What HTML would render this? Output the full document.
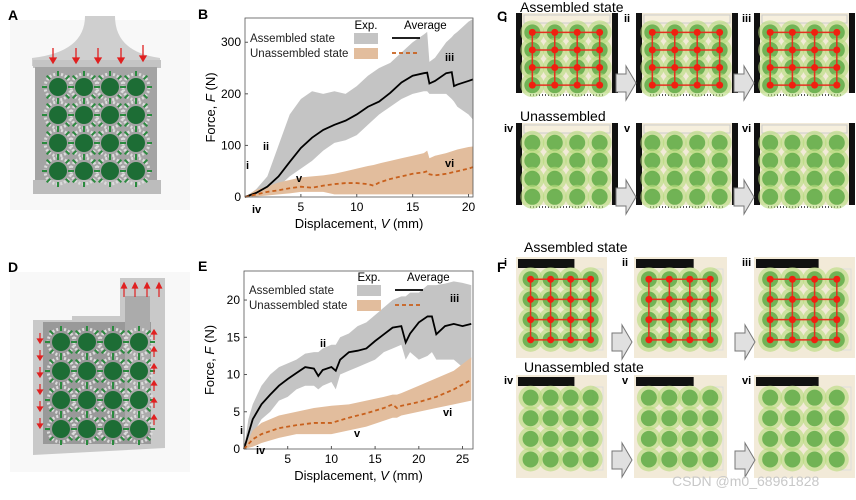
<!DOCTYPE html>
<html><head><meta charset="utf-8"><style>
html,body{margin:0;padding:0;background:#fff;}
body{width:856px;height:495px;overflow:hidden;font-family:"Liberation Sans",Arial,sans-serif;}
svg text{font-family:"Liberation Sans",Arial,sans-serif;}
</style></head><body>
<svg id="fig" width="856" height="495" viewBox="0 0 856 495" xmlns="http://www.w3.org/2000/svg">
<g id="panelA">
  <text x="8" y="20" font-size="14" font-weight="bold">A</text>
  <rect x="10" y="20" width="180" height="190" fill="#f8f8f8"/>
  <path d="M85 16 L115 16 Q115 52 160 58 L160 66 L32 66 L32 58 Q85 52 85 16Z" fill="#cfcfcf"/>
  <rect x="33" y="60" width="128" height="8" fill="#c4c4c4"/>
  <rect x="35" y="67" width="122" height="115" fill="#a4a4a4"/>
  <rect x="33" y="180" width="128" height="14" fill="#bcbcbc"/>
  <g id="gridA"></g>
  <g fill="#e02020" stroke="#e02020" stroke-width="1.3">
    <line x1="53" y1="48" x2="53" y2="60"/><path d="M50 58 L56 58 L53 63Z"/>
    <line x1="76" y1="48" x2="76" y2="60"/><path d="M73 58 L79 58 L76 63Z"/>
    <line x1="98" y1="48" x2="98" y2="60"/><path d="M95 58 L101 58 L98 63Z"/>
    <line x1="121" y1="48" x2="121" y2="60"/><path d="M118 58 L124 58 L121 63Z"/>
    <line x1="143" y1="45" x2="143" y2="58"/><path d="M140 56 L146 56 L143 61Z"/>
  </g>
</g>
<g id="panelD">
  <text x="8" y="272" font-size="14" font-weight="bold">D</text>
  <rect x="10" y="272" width="180" height="200" fill="#f8f8f8"/>
  <path d="M33 320 L72 320 L72 316 L120 316 L120 278 L165 278 L165 448 L33 455Z" fill="#c9c9c9"/>
  <rect x="43" y="322" width="108" height="122" fill="#999"/>
  <rect x="125" y="296" width="25" height="130" fill="#ababab"/>
  <g id="gridD"></g>
  <g id="arrowsD" fill="#e02020" stroke="#e02020" stroke-width="1.2"></g>
</g>

<g id="chartB">
  <text x="198" y="19" font-size="14" font-weight="bold">B</text>
</g>
<g id="chartE">
  <text x="198" y="271" font-size="14" font-weight="bold">E</text>
</g>

<g id="panelC">
  <text x="497" y="21" font-size="14" font-weight="bold">C</text>
  <text x="520" y="12" font-size="14">Assembled state</text>
  <text x="520" y="121" font-size="14">Unassembled</text>
</g>
<g id="panelF">
  <text x="497" y="272" font-size="14" font-weight="bold">F</text>
  <text x="524" y="252" font-size="14">Assembled state</text>
  <text x="524" y="372" font-size="14">Unassembled state</text>
</g>
<text x="672" y="486" font-size="14" fill="#c8c8c8">CSDN @m0_68961828</text>
</svg>
<script>
// ---------- Chart B data ----------
const bAsmX   = [0,1,2,3,4,5,6,7,8,9,10,11,12,13,14,15,16,16.3,16.5,17,18,18.5,18.7,19,20,20.4];
const bAsmMean= [0,8,20,40,68,95,115,130,140,148,160,175,185,202,222,235,240,241,220,225,240,242,215,218,225,228];
const bAsmHi  = [0,15,40,100,160,190,205,200,205,200,215,235,250,260,280,300,315,320,262,270,300,310,315,320,340,345];
const bAsmLo  = [0,2,8,20,40,55,70,90,105,110,120,140,160,175,190,200,205,205,200,200,200,190,185,175,160,150];
const bUnX    = [0,1,2,3,4,5,6,7,8,9,10,11,11.5,12,13,14,15,16,16.3,16.5,17,18,19,20,20.4];
const bUnMean = [0,5,10,13,17,20,18,22,25,27,27,25,22,28,35,40,45,48,50,44,42,45,50,55,58];
const bUnHi   = [0,14,20,28,33,38,40,42,45,50,55,60,62,65,70,75,80,85,90,75,80,85,92,97,98];
const bUnLo   = [0,1,3,5,7,10,10,10,5,5,5,5,5,5,5,5,5,5,5,5,5,5,5,5,5];
const bXTicks = [5,10,15,20];
const bYTicks = [0,100,200,300];
// ---------- Chart E data ----------
const eAsmX   = [0,0.5,1,2,3,4,5,6,7,8,8.5,9,10,10.5,11,12,13,14,15,16,17,18,18.5,19,20,21,21.5,22,23,24,25,26];
const eAsmMean= [0,2,4,6,7.3,8.5,9.4,10.2,11,10.8,9.8,10.6,11,10.5,12,13,13.2,13.5,14.5,15.4,16.3,16.5,14.3,15.5,17,17.8,17.8,15.4,16.5,16.8,16.5,16.8];
const eAsmHi  = [0,4,6,8.5,10,11,11.5,12,12.8,13,13,13.5,14,14,15,15.5,16.5,17,18,19,20,20.5,20.5,21,21,22,22,22,22.2,22.5,22.3,22];
const eAsmLo  = [0,0.5,2,4,5,6.5,7,8,8.5,8.5,8,8.5,9,8,10,10.5,11,11.5,12,13,13.5,14,12,13,12,12.5,13,12,12,12,11,12];
const eUnX    = [0,1,2,4,6,8,10,12,14,16,17,17.5,18,20,22,24,26];
const eUnMean = [0,1.3,2,2.8,3.2,3.5,3.5,4.2,4.8,5.5,6,5.5,5.8,6.3,7,8,9.3];
const eUnHi   = [0,2.5,3.5,4.5,5,5.5,5.8,6,6.5,7,7.3,7.3,7.5,8.5,9.5,10.5,12.3];
const eUnLo   = [0,0.3,0.8,1.5,2,2,2,2.5,3,3.8,4.2,4.2,4.5,5,5.5,6,6.5];
const eXTicks = [5,10,15,20,25];
const eYTicks = [0,5,10,15,20];

const NS="http://www.w3.org/2000/svg";
function mk(tag,attrs,parent){const e=document.createElementNS(NS,tag);for(const k in attrs)e.setAttribute(k,attrs[k]);if(parent)parent.appendChild(e);return e;}

function drawChart(g,cfg){
  const sx=v=>cfg.x0+(v-cfg.xmin)/(cfg.xmax-cfg.xmin)*(cfg.x1-cfg.x0);
  const sy=v=>cfg.y0-(v-cfg.ymin)/(cfg.ymax-cfg.ymin)*(cfg.y0-cfg.y1);
  const band=(xs,hi,lo,fill,name)=>{
    let d="M"+xs.map((x,i)=>sx(x)+" "+sy(hi[i])).join(" L");
    for(let i=xs.length-1;i>=0;i--)d+=" L"+sx(xs[i])+" "+sy(lo[i]);
    const p=mk("path",{d:d+"Z",fill:fill},g);
    
    
  };
  const line=(xs,ys,st,dash,name)=>{
    const p=mk("polyline",{points:xs.map((x,i)=>sx(x)+","+sy(ys[i])).join(" "),fill:"none",stroke:st,"stroke-width":1.8,"stroke-dasharray":dash},g);
    
    
  };
  band(cfg.ax,cfg.ahi,cfg.alo,"#c4c4c4","assembled-exp-band");
  band(cfg.ux,cfg.uhi,cfg.ulo,"#e2bd9d","unassembled-exp-band");
  line(cfg.ax,cfg.am,"#000","none","assembled-average-line");
  line(cfg.ux,cfg.um,"#c8601c","4 3","unassembled-average-line");
  const fr=mk("rect",{x:cfg.x0,y:cfg.y1,width:cfg.x1-cfg.x0,height:cfg.y0-cfg.y1,fill:"none",stroke:"#555","stroke-width":0.8},g);
  
  
  cfg.xt.forEach(v=>{
    mk("line",{x1:sx(v),x2:sx(v),y1:cfg.y0,y2:cfg.y0-3,stroke:"#555"},g);
    const t=mk("text",{x:sx(v),y:cfg.y0+14,"font-size":12,"text-anchor":"middle"},g);t.textContent=v;
    
    
  });
  cfg.yt.forEach(v=>{
    mk("line",{x1:cfg.x0,x2:cfg.x0+3,y1:sy(v),y2:sy(v),stroke:"#555"},g);
    const t=mk("text",{x:cfg.x0-4,y:sy(v)+4,"font-size":12,"text-anchor":"end"},g);t.textContent=v;
    
    
  });
  const xt=mk("text",{x:(cfg.x0+cfg.x1)/2,y:cfg.y0+31,"font-size":13,"text-anchor":"middle"},g);
  xt.innerHTML='Displacement, <tspan font-style="italic">V</tspan> (mm)';
  
  
  const yc=(cfg.y0+cfg.y1)/2;
  const yt=mk("text",{x:cfg.x0-30,y:yc,"font-size":13,"text-anchor":"middle",transform:`rotate(-90 ${cfg.x0-30} ${yc})`},g);
  yt.innerHTML='Force, <tspan font-style="italic">F</tspan> (N)';
  
  
  const L=cfg.leg;
  [["Assembled state",L.y+13],["Unassembled state",L.y+28]].forEach(a=>{
    const t=mk("text",{x:cfg.x0+5,y:a[1],"font-size":11.5,fill:"#222"},g);t.textContent=a[0];
    
    
  });
  let t=mk("text",{x:L.x+12,y:L.y,"font-size":11.5,"text-anchor":"middle"},g);t.textContent="Exp.";
  t=mk("text",{x:L.x+50,y:L.y,"font-size":11.5},g);t.textContent="Average";
  mk("rect",{x:L.x,y:L.y+4,width:24,height:11,fill:"#c4c4c4"},g);
  mk("rect",{x:L.x,y:L.y+19,width:24,height:11,fill:"#e2bd9d"},g);
  mk("line",{x1:L.x+38,x2:L.x+66,y1:L.y+9,y2:L.y+9,stroke:"#000","stroke-width":1.8},g);
  mk("line",{x1:L.x+38,x2:L.x+66,y1:L.y+24,y2:L.y+24,stroke:"#c8601c","stroke-width":1.8,"stroke-dasharray":"4 3"},g);
  cfg.labels.forEach(l=>{
    const t=mk("text",{x:l[0],y:l[1],"font-size":11,"font-weight":"bold"},g);t.textContent=l[2];
    
    
  });
}
drawChart(document.getElementById("chartB"),{x0:245,x1:473,y0:197,y1:18,xmin:0,xmax:20.4,ymin:0,ymax:347,
  ax:bAsmX,am:bAsmMean,ahi:bAsmHi,alo:bAsmLo,ux:bUnX,um:bUnMean,uhi:bUnHi,ulo:bUnLo,xt:bXTicks,yt:bYTicks,
  leg:{x:354,y:29},labels:[[246,169,"i"],[263,150,"ii"],[296,182,"v"],[252,213,"iv"],[445,61,"iii"],[445,167,"vi"]]});
drawChart(document.getElementById("chartE"),{x0:244,x1:473,y0:449,y1:271,xmin:0,xmax:26.2,ymin:0,ymax:23.9,
  ax:eAsmX,am:eAsmMean,ahi:eAsmHi,alo:eAsmLo,ux:eUnX,um:eUnMean,uhi:eUnHi,ulo:eUnLo,xt:eXTicks,yt:eYTicks,
  leg:{x:357,y:281},labels:[[240,434,"i"],[320,347,"ii"],[354,437,"v"],[256,454,"iv"],[450,302,"iii"],[443,416,"vi"]]});

function rend(gid,x0,y0,dx,dy){
  const g=document.getElementById(gid);
  for(let r=0;r<4;r++)for(let c=0;c<4;c++){
    const cx=x0+c*dx,cy=y0+r*dy;
    mk("circle",{cx:cx,cy:cy,r:13,fill:"none",stroke:"#dcdcdc","stroke-width":3,"stroke-dasharray":"2 2"},g);
    mk("circle",{cx:cx,cy:cy,r:9,fill:"#1d6d35"},g);
    for(let k=0;k<8;k++){const a=k*Math.PI/4;mk("line",{x1:cx+11*Math.cos(a),y1:cy+11*Math.sin(a),x2:cx+16*Math.cos(a),y2:cy+16*Math.sin(a),stroke:"#2a8a3e","stroke-width":2},g);}
  }
}
rend("gridA",58,87,26,28);
rend("gridD",61,342,26,29);
const ad=document.getElementById("arrowsD");
for(let i=0;i<6;i++){const y=333+i*17;mk("line",{x1:40,x2:40,y1:y,y2:y+7},ad);mk("path",{d:`M37.5 ${y+6} L42.5 ${y+6} L40 ${y+10}Z`},ad);}
for(let i=0;i<6;i++){const y=330+i*17;mk("line",{x1:154,x2:154,y1:y+3,y2:y+10},ad);mk("path",{d:`M151.5 ${y+4} L156.5 ${y+4} L154 ${y}Z`},ad);}
[124,135,147,159].forEach(x=>{mk("line",{x1:x,x2:x,y1:287,y2:297},ad);mk("path",{d:`M${x-2.5} 288 L${x+2.5} 288 L${x} 283Z`},ad);});

function photo(gid,x,y,w,h,lab,asm,style){
  const g=document.getElementById(gid);
  const p=mk("g",{},g);
  
  
  mk("rect",{x:x,y:y,width:w,height:h,fill:"#f2ead8"},p);
  if(style==="C"){
    mk("rect",{x:x,y:y,width:6,height:h-8,fill:"#111"},p);
    mk("rect",{x:x+w-6,y:y,width:6,height:h-8,fill:"#111"},p);
    mk("rect",{x:x+8,y:y+2,width:w-16,height:8,fill:"#f6efdd",stroke:"#ccc"},p);
    mk("rect",{x:x,y:y+h-8,width:w,height:8,fill:"#fff"},p);
    mk("line",{x1:x+14,x2:x+w-14,y1:y+h-6,y2:y+h-6,stroke:"#555","stroke-dasharray":"1 2","stroke-width":2},p);
  } else {
    mk("rect",{x:x+2,y:y+2,width:w*0.62,height:9,fill:"#111"},p);
    mk("rect",{x:x+w-14,y:y+12,width:10,height:h-20,fill:"#f3ead6",stroke:"#ddd"},p);
  }
  const cx0=x+w*0.16,cy0=y+h*0.22,dx=w*0.22,dy=h*0.2;
  for(let r=0;r<4;r++)for(let c=0;c<4;c++){
    const cx=cx0+c*dx,cy=cy0+r*dy;
    mk("circle",{cx:cx,cy:cy,r:12,fill:"#b6da7c",opacity:0.6},p);
    mk("circle",{cx:cx,cy:cy,r:8,fill:"#5aa842",opacity:0.8},p);
  }
  if(asm){
    for(let r=0;r<4;r++){mk("line",{x1:cx0,x2:cx0+3*dx,y1:cy0+r*dy,y2:cy0+r*dy,stroke:"#e53020","stroke-width":1.5},p);}
    for(let c=0;c<4;c++){mk("line",{x1:cx0+c*dx,x2:cx0+c*dx,y1:cy0,y2:cy0+3*dy,stroke:"#e53020","stroke-width":1.5},p);}
    for(let r=0;r<4;r++)for(let c=0;c<4;c++)mk("circle",{cx:cx0+c*dx,cy:cy0+r*dy,r:3.5,fill:"#f02010"},p);
  }
  const t=mk("text",{x:x-12,y:y+9,"font-size":11,"font-weight":"bold"},g);t.textContent=lab;
}
function arrow(gid,x,y){
  const g=document.getElementById(gid);
  const a=mk("path",{d:`M${x} ${y+8} L${x+10} ${y+8} L${x+10} ${y} L${x+20} ${y+17} L${x+10} ${y+34} L${x+10} ${y+26} L${x} ${y+26}Z`,fill:"#e0e0e0",stroke:"#777"},g);
  
  
}
photo("panelC",516,13,102,88,"i",true,"C");
photo("panelC",636,13,102,88,"ii",true,"C");
photo("panelC",754,13,101,88,"iii",true,"C");
photo("panelC",516,123,102,90,"iv",false,"C");
photo("panelC",636,123,102,90,"v",false,"C");
photo("panelC",754,123,101,90,"vi",false,"C");
arrow("panelC",616,66);arrow("panelC",734,66);arrow("panelC",616,180);arrow("panelC",734,180);
photo("panelF",516,257,91,101,"i",true,"F");
photo("panelF",634,257,93,101,"ii",true,"F");
photo("panelF",754,257,101,101,"iii",true,"F");
photo("panelF",516,375,91,103,"iv",false,"F");
photo("panelF",634,375,93,103,"v",false,"F");
photo("panelF",754,375,101,103,"vi",false,"F");
arrow("panelF",612,325);arrow("panelF",735,325);arrow("panelF",612,443);arrow("panelF",735,443);
</script>
</body></html>
